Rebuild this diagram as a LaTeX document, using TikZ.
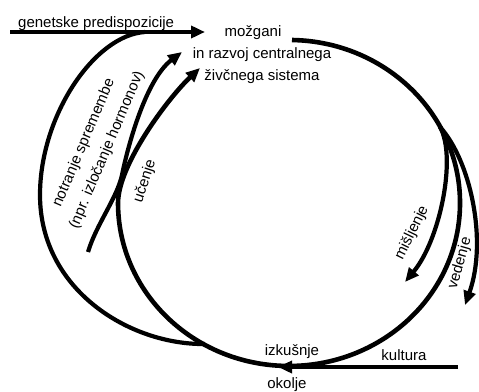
\documentclass[tikz,border=0pt]{standalone}
\usepackage{fontspec}
\setmainfont{Liberation Sans}
\usetikzlibrary{arrows.meta}
\begin{document}
\begin{tikzpicture}[x=1pt,y=-1pt,
  line/.style={line width=4.2pt},
  main/.style={line width=4.6pt},
  tip/.style={-{Triangle[length=14pt,width=12pt]}},
  lbl/.style={font=\fontsize{15}{18}\selectfont, inner sep=0pt},
]
\useasboundingbox (0,0) rectangle (479,391);
% key points
\coordinate (gstart) at (10,32);
\coordinate (gend) at (205,32);
\coordinate (ostart) at (145,32);
\coordinate (ojoin) at (205,344);
\coordinate (top) at (292,40);
\coordinate (utip) at (200,68);
\coordinate (branch) at (440,127);
\coordinate (mtip) at (405,282);
\coordinate (vtip) at (465,305);
\coordinate (kstart) at (458,367);
\coordinate (ktip) at (278,367);
\coordinate (nstart) at (88,252);
\coordinate (ntouch) at (122,175);
\coordinate (ntip) at (182,52);
% main loop (ends in the "ucenje" arrow)
\draw[main,tip] (top) arc[start angle=-89, end angle=180, x radius=171, y radius=163]
  .. controls +(0,-38) and (168,98) .. (utip);
% genetic predisposition arrow and outer loop
\draw[line,tip] (gstart) -- (gend);
\draw[line] (ostart) .. controls (95,35) and (40,115) .. (40,195)
  .. controls (40,290) and (130,345) .. (ojoin);
% internal changes arrow
\draw[line,tip] (nstart) .. controls (96,225) and (117,198) .. (ntouch)
  .. controls (127,150) and (145,80) .. (ntip);
% thinking and behaviour
\draw[line,tip] (branch) .. controls (457,157) and (440,240) .. (mtip);
\draw[line,tip] (branch) .. controls (470,160) and (488,240) .. (vtip);
% culture
\draw[main,tip] (kstart) -- (ktip);
% labels
\node[lbl,anchor=base west] (gen) at (18,27) {genetske predispozicije};
\node[lbl,anchor=base] (b1) at (253,36) {možgani};
\node[lbl,anchor=base] (b2) at (262,58) {in razvoj centralnega};
\node[lbl,anchor=base] (b3) at (262,80) {živčnega sistema};
\node[lbl,rotate=67] (n1) at (84,143) {notranje spremembe};
\node[lbl,rotate=67] (n2) at (107,150) {(npr. izločanje hormonov)};
\node[lbl,rotate=72] (uc) at (145,181) {učenje};
\node[lbl,rotate=64] (mi) at (412,233) {mišljenje};
\node[lbl,rotate=74] (ve) at (460,263) {vedenje};
\node[lbl,anchor=base] (iz) at (292,355) {izkušnje};
\node[lbl,anchor=base] (ku) at (404,360) {kultura};
\node[lbl,anchor=base] (ok) at (287,388) {okolje};
\end{tikzpicture}
\end{document}
